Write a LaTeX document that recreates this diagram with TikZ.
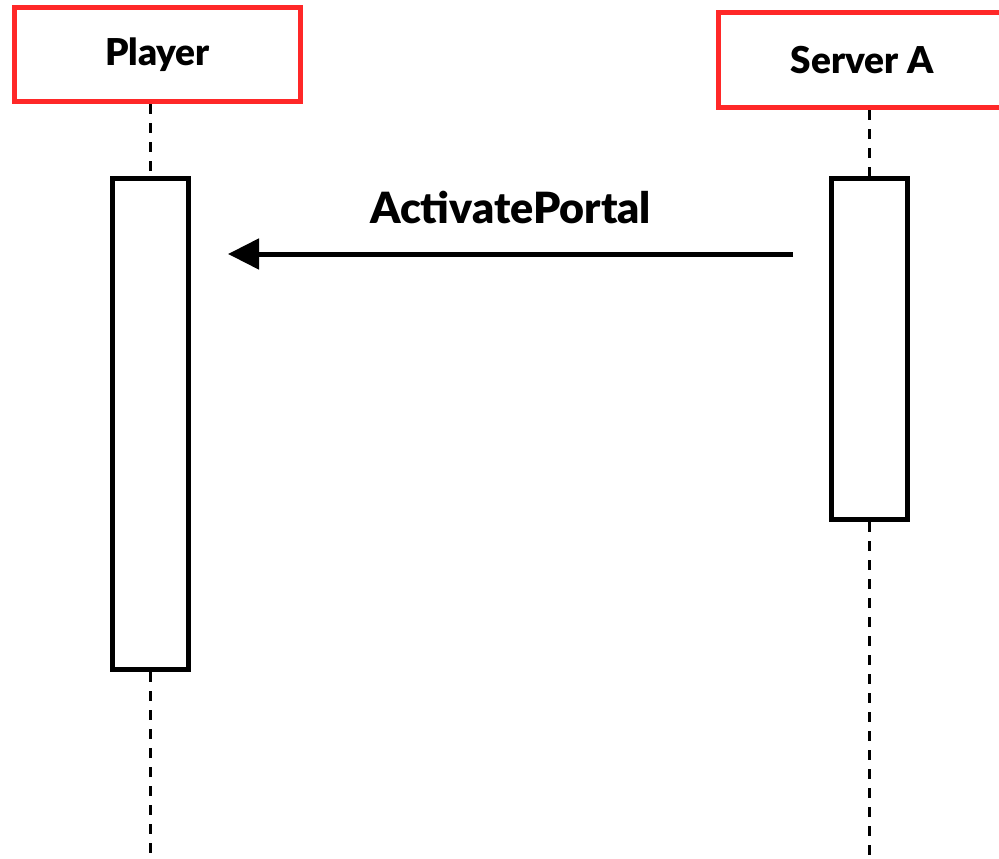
\documentclass[tikz,border=0pt]{standalone}
\usepackage{fontspec}
\setmainfont{Lato}
\newfontfamily\heavyfont{Lato Black}
\usepackage{tikz}
\usetikzlibrary{arrows.meta,calc}
\definecolor{actorred}{RGB}{255,40,40}
\tikzset{
   actor/.style={draw=actorred, line width=5pt, rectangle, inner sep=0pt,
                 font=\fontsize{37}{40}\selectfont\heavyfont},
   activation/.style={draw=black, line width=5pt, rectangle, fill=white, inner sep=0pt,
                 minimum width=76pt},
   lifeline/.style={draw=black, line width=3pt, dash pattern=on 10pt off 9pt},
   message/.style={draw=black, line width=5pt, -{Triangle[length=31pt,width=30pt]}}
}

\begin{document}
\begin{tikzpicture}[x=1pt,y=-1pt]
  \useasboundingbox (0,0) rectangle (999,859);
  \node[actor, minimum width=286pt, minimum height=94pt] (player) at (157.5,54.5) {Player};
  \node[actor, minimum width=288pt, minimum height=95pt] (server) at (862,60) {Server A};
  \node[activation, minimum height=491pt] (playerAct) at (150.5,424) {};
  \node[activation, minimum height=341pt] (serverAct) at (869.5,349) {};
  \coordinate (bottom) at (0,859);
  \coordinate (msgFrom) at (793,254);
  \coordinate (msgTo) at (228,254);
  % lifelines
  \path[lifeline]
    (playerAct.north |- player.south) -- (playerAct.north)
    (playerAct.south) -- (playerAct.south |- bottom)
    (serverAct.north |- server.south) -- (serverAct.north)
    (serverAct.south) -- (serverAct.south |- bottom);
  \draw[message] (msgFrom) -- node[midway, yshift=46pt, font=\fontsize{43}{46}\selectfont\heavyfont] (msgLabel) {ActivatePortal} (msgTo);
\end{tikzpicture}
\end{document}
